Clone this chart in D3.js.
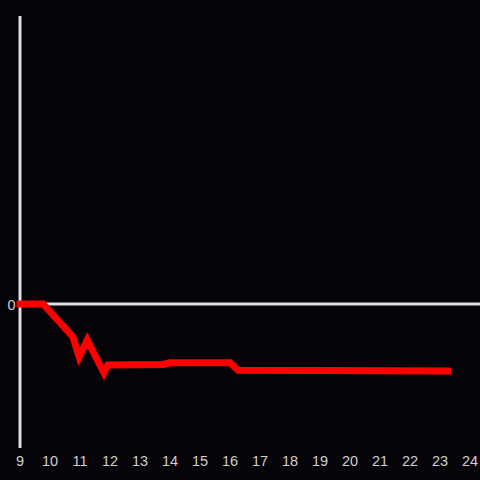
<!DOCTYPE html>
<html><head><meta charset="utf-8">
<script src="https://cdn.jsdelivr.net/npm/d3@7"></script>
<style>html,body{margin:0;padding:0;background:#050307;}svg{display:block;}</style>
</head><body>
<script>
const xValues = [9, 9.77, 10.76, 10.97, 11.24, 11.8, 11.93, 13.77, 14.0, 16.0, 16.27, 23.25];
const yValues = [0, 0, -0.227, -0.366, -0.25, -0.479, -0.424, -0.42, -0.408, -0.408, -0.46, -0.465];
const xTicks = [9,10,11,12,13,14,15,16,17,18,19,20,21,22,23,24];
const yTicks = [0];

const W = 480, H = 480;
const svg = d3.select("body").append("svg").attr("width", W).attr("height", H);
svg.append("rect").attr("width", W).attr("height", H).attr("fill", "#050307");

const x = d3.scaleLinear().domain([9, 24]).range([20, 470]);
const y = d3.scaleLinear().domain([-1, 2]).range([448, 16]);

// y axis line
svg.append("line").attr("x1", x(9)).attr("x2", x(9)).attr("y1", y(2)).attr("y2", y(-1))
  .attr("stroke", "#e0e0e0").attr("stroke-width", 3);
// zero line
svg.append("line").attr("x1", x(9)).attr("x2", W).attr("y1", y(0)).attr("y2", y(0))
  .attr("stroke", "#e0e0e0").attr("stroke-width", 3);

// x tick labels
svg.append("g").selectAll("text").data(xTicks).join("text")
  .attr("x", d => x(d)).attr("y", 466)
  .attr("text-anchor", "middle")
  .attr("font-family", "Liberation Sans, Arial, sans-serif").attr("font-size", 14.5)
  .attr("fill", "#d0d0d0").text(d => d);

// y tick labels
svg.append("g").selectAll("text").data(yTicks).join("text")
  .attr("x", 15.5).attr("y", d => y(d) + 5.5)
  .attr("text-anchor", "end")
  .attr("font-family", "Liberation Sans, Arial, sans-serif").attr("font-size", 14.5)
  .attr("fill", "#d0d0d0").text(d => d);

const data = xValues.map((v, i) => [v, yValues[i]]);
svg.append("path").datum(data)
  .attr("d", d3.line().x(d => x(d[0])).y(d => y(d[1])))
  .attr("fill", "none").attr("stroke", "#ff0000").attr("stroke-width", 7)
  .attr("stroke-linejoin", "miter").attr("stroke-linecap", "square");
</script>
</body></html>
